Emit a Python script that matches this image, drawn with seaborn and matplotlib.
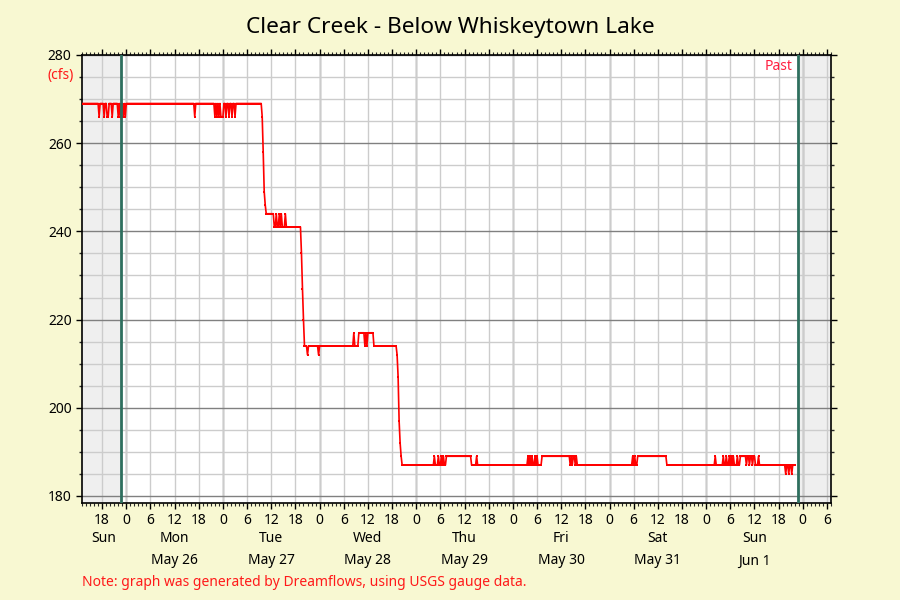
import pandas as pd
import numpy as np
import matplotlib
matplotlib.use("Agg")
import matplotlib.pyplot as plt
import matplotlib.dates as mdates
from matplotlib.ticker import MultipleLocator, FuncFormatter
import seaborn as sns

# --- dados (USGS, leituras a cada 15 min) ---
seg_start = ["2025-05-25 13:00", "2025-05-27 09:45", "2025-05-27 10:00", "2025-05-27 10:15",
             "2025-05-27 10:30", "2025-05-27 10:45", "2025-05-27 12:45", "2025-05-27 19:30",
             "2025-05-27 19:45", "2025-05-27 20:00", "2025-05-27 20:15", "2025-05-28 09:45",
             "2025-05-28 13:30", "2025-05-28 19:15", "2025-05-28 19:30", "2025-05-28 19:45",
             "2025-05-28 20:00", "2025-05-28 20:15", "2025-05-28 20:30", "2025-05-29 07:30",
             "2025-05-29 13:45", "2025-05-30 07:15", "2025-05-30 16:15", "2025-05-31 07:00",
             "2025-05-31 14:15", "2025-06-01 08:30", "2025-06-01 12:15"]
seg_flow = [269, 266, 258, 249, 246, 244, 241, 235, 227, 220, 214, 217, 214, 212, 207, 197,
            192, 189, 187, 189, 187, 189, 187, 189, 187, 189, 187]
data_end = "2025-06-01 22:00"

# leituras isoladas que fogem do patamar
spike_time = ["2025-05-25 17:15", "2025-05-25 18:30", "2025-05-25 19:15", "2025-05-25 19:30",
              "2025-05-25 20:30", "2025-05-25 22:00", "2025-05-25 22:30", "2025-05-25 23:15",
              "2025-05-25 23:45", "2025-05-26 17:00", "2025-05-26 22:00", "2025-05-26 22:30",
              "2025-05-26 23:00", "2025-05-26 23:30", "2025-05-26 23:45", "2025-05-27 00:00",
              "2025-05-27 00:45", "2025-05-27 01:30", "2025-05-27 02:15", "2025-05-27 03:00",
              "2025-05-27 13:15", "2025-05-27 14:00", "2025-05-27 14:30", "2025-05-27 15:30",
              "2025-05-27 21:00", "2025-05-27 23:45", "2025-05-28 08:30", "2025-05-28 11:15",
              "2025-05-28 11:45", "2025-05-29 04:30", "2025-05-29 05:30", "2025-05-29 06:15",
              "2025-05-29 06:45", "2025-05-29 15:00", "2025-05-30 03:45", "2025-05-30 04:15",
              "2025-05-30 04:45", "2025-05-30 05:30", "2025-05-30 06:00", "2025-05-30 14:15",
              "2025-05-30 14:45", "2025-05-30 15:30", "2025-05-30 16:00", "2025-05-31 05:45",
              "2025-05-31 06:15", "2025-06-01 02:15", "2025-06-01 04:15", "2025-06-01 05:00",
              "2025-06-01 05:45", "2025-06-01 06:15", "2025-06-01 06:45", "2025-06-01 07:45",
              "2025-06-01 10:00", "2025-06-01 10:45", "2025-06-01 11:30", "2025-06-01 13:00",
              "2025-06-01 19:45", "2025-06-01 20:30", "2025-06-01 21:15"]
spike_flow = [266, 266, 266, 266, 266, 266, 266, 266, 266, 266, 266, 266, 266, 266, 266, 266,
              266, 266, 266, 266, 244, 244, 244, 244, 212, 212, 217, 214, 214, 189, 189, 189,
              189, 189, 189, 189, 189, 189, 189, 187, 187, 187, 187, 189, 189, 189, 189, 189,
              189, 189, 189, 189, 187, 187, 187, 189, 185, 185, 185]

x_start = "2025-05-25 13:00"
x_end = "2025-06-02 07:00"
past_start = "2025-05-25 22:45"
past_end = "2025-06-01 22:45"

day_names = ["Sun", "Mon", "Tue", "Wed", "Thu", "Fri", "Sat", "Sun"]
day_dates = ["", "May 26", "May 27", "May 28", "May 29", "May 30", "May 31", "Jun 1"]

# serie de 15 em 15 min: patamar mantido ate a proxima mudanca
steps = pd.Series(seg_flow, index=pd.to_datetime(seg_start))
idx = pd.date_range(seg_start[0], data_end, freq="15min")
flow = steps.reindex(idx, method="ffill")
flow.loc[pd.to_datetime(spike_time)] = spike_flow
df = pd.DataFrame({"time": idx, "flow": flow.values})

# --- grafico ---
sns.set_style("ticks")
plt.rcParams["font.family"] = ["Noto Sans", "DejaVu Sans"]
plt.rcParams["text.color"] = "black"

bg = "#f8f8d2"
fig = plt.figure(figsize=(9, 6), dpi=100, facecolor=bg)
ax = fig.add_axes([82 / 900, 1 - 503 / 600, 749 / 900, 448 / 600])
ax.set_facecolor("white")

x0, x1 = pd.Timestamp(x_start), pd.Timestamp(x_end)
p0, p1 = pd.Timestamp(past_start), pd.Timestamp(past_end)

# areas fora da janela de 7 dias
ax.axvspan(x0, p0, color="#efefef", lw=0, zorder=0.1)
ax.axvspan(p1, x1, color="#efefef", lw=0, zorder=0.1)

# grade
ax.set_axisbelow(True)
ax.yaxis.set_major_locator(MultipleLocator(20))
ax.yaxis.set_minor_locator(MultipleLocator(5))
ax.xaxis.set_major_locator(mdates.HourLocator(byhour=[0, 6, 12, 18]))
ax.xaxis.set_minor_locator(mdates.HourLocator())
ax.xaxis.set_major_formatter(FuncFormatter(lambda v, p: str(mdates.num2date(v).hour)))
ax.grid(which="minor", axis="y", color="#cccccc", lw=1)
ax.grid(which="major", axis="y", color="#808080", lw=1)
ax.grid(which="major", axis="x", color="#cccccc", lw=1)
for d in pd.date_range("2025-05-26", "2025-06-02", freq="D"):
    ax.axvline(d, color="#808080", lw=1, zorder=0.5)

sns.lineplot(data=df, x="time", y="flow", ax=ax, color="#ff0000", lw=1.2,
             marker="s", markersize=2.0, markeredgewidth=0, estimator=None, zorder=3)

# linhas verdes: janela "past"
ax.axvline(p0, color="#2e6f5e", lw=2, zorder=4)
ax.axvline(p1, color="#2e6f5e", lw=2, zorder=4)

ax.set_xlim(x0, x1)
ax.set_ylim(178.4, 280)
ax.set_xlabel("")
ax.set_ylabel("")

for s in ax.spines.values():
    s.set_color("black")
    s.set_linewidth(1.2)

ax.tick_params(axis="x", which="major", direction="out", length=4.5, width=1,
               top=True, bottom=True, labelsize=10, pad=2.5, colors="black")
ax.tick_params(axis="x", which="minor", direction="out", length=2.5, width=0.8,
               top=True, bottom=True)
ax.tick_params(axis="y", which="major", direction="out", length=4, width=1,
               left=True, right=True, labelsize=10, colors="black")
ax.tick_params(axis="y", which="minor", direction="out", length=2.5, width=1,
               left=True, right=True)

# nomes dos dias e datas, no centro da parte visivel de cada dia
trans = ax.get_xaxis_transform()
for i, (nome, data) in enumerate(zip(day_names, day_dates)):
    d0 = max(pd.Timestamp("2025-05-25") + pd.Timedelta(days=i), x0)
    d1 = min(pd.Timestamp("2025-05-26") + pd.Timedelta(days=i), x1)
    mid = d0 + (d1 - d0) / 2
    ax.text(mid, -36 / 448, nome, transform=trans, ha="center", va="center", fontsize=10)
    if data:
        ax.text(mid, -58 / 448, data, transform=trans, ha="center", va="center", fontsize=10)

fig.text(0.5, 1 - 27 / 600, "Clear Creek - Below Whiskeytown Lake", ha="center", va="center",
         fontsize=16.3)
fig.text(74 / 900, 1 - 76 / 600, "(cfs)", ha="right", va="center", fontsize=10, color="#ff1a1a")
fig.text(793 / 900, 1 - 66 / 600, "Past", ha="right", va="center", fontsize=10, color="#ff2040")
fig.text(82 / 900, 1 - 582 / 600, "Note: graph was generated by Dreamflows, using USGS gauge data.",
         ha="left", va="center", fontsize=10, color="#ff1a1a")

fig.savefig("out.png", dpi=100, facecolor=bg)
